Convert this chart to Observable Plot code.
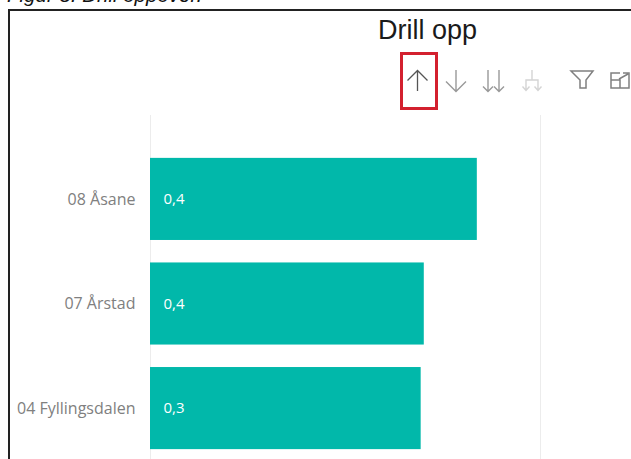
<!DOCTYPE html>
<html><head><meta charset="utf-8">
<script src="https://cdn.jsdelivr.net/npm/d3@7"></script>
<script src="https://cdn.jsdelivr.net/npm/@observablehq/plot@0.6"></script>
<style>
html,body{margin:0;padding:0;background:#fff;overflow:hidden}
#wrap{position:relative;width:631px;height:459px;overflow:hidden}
#wrap svg{display:block}
#chart{position:absolute;left:0;top:0}
#caption{position:absolute;left:7px;top:-17px;font:italic 20.5px "Liberation Sans",sans-serif;color:#111;white-space:nowrap}
#frame{position:absolute;left:8px;top:9px;width:640px;height:470px;border:2px solid #222;box-sizing:border-box}
#title{position:absolute;left:378px;top:15px;font:27px "Liberation Sans",sans-serif;color:#1a1a1a;white-space:nowrap}
#icons{position:absolute;left:0;top:0}
</style></head><body>
<div id="wrap">
<div id="chart"></div>
<div id="frame"></div>
<div id="caption">Figur 8: Drill oppover.</div>
<div id="title">Drill opp</div>
<svg id="icons" width="631" height="459" fill="none">
<rect x="401.500" y="53.500" width="35" height="55" stroke="#d3202f" stroke-width="3"/>
<g stroke="#555" stroke-width="1.3"><path d="M417.500 91V70.500M407.500 80.500L417.500 70.500L427.500 80.500"/></g>
<g stroke="#999" stroke-width="1.4"><path d="M456 70V91.500M446 81.500L456 91.500L466 81.500"/>
<path d="M488 70V91.500M483 86.500L488 91.500L493 86.500M499 70V91.500M494 86.500L499 91.500L504 86.500"/></g>
<g stroke="#d4d4d4" stroke-width="1.4"><path d="M532 70V80M526 90V80H538V90M522.500 86.500L526 90.500L529.500 86.500M534.500 86.500L538 90.500L541.500 86.500"/></g>
<g stroke="#808080" stroke-width="1.5"><path d="M571 71H593L586 80V88H580V80Z"/>
<path d="M620 73H611V88H629V78M611 80H620V88M619 79L628 74M623 73H629V78"/></g>
</svg>
</div>
<script>
const categories = ["08 Åsane", "07 Årstad", "04 Fyllingsdalen"];
const values = [0.419, 0.351, 0.347];
const labels = ["0,4", "0,4", "0,3"];
const rows = categories.map((c, i) => ({c, v: values[i], l: labels[i]}));
const plot = Plot.plot({
  width: 631, height: 459,
  marginLeft: 150, marginRight: 91, marginTop: 115, marginBottom: 0,
  style: {fontFamily: '"Open Sans","Noto Sans",sans-serif', background: "transparent"},
  x: {domain: [0, 0.5], axis: null},
  y: {domain: categories, range: [115, 492], round: false, paddingInner: 0.215, paddingOuter: 0.41, label: null},
  marks: [
    Plot.gridX([0, 0.5], {stroke: "#ececec", strokeOpacity: 1}),
    Plot.barX(rows, {x: "v", y: "c", fill: "#01b8aa"}),
    Plot.axisY({tickSize: 0, tickPadding: 15, fontSize: 16, color: "#808080", label: null, marginLeft: 150}),
    Plot.text(rows, {x: 0, y: "c", text: "l", textAnchor: "start", dx: 13, fill: "#fff", fontSize: 15, fontWeight: 500})
  ]
});
document.getElementById("chart").append(plot);
</script>
</body></html>
